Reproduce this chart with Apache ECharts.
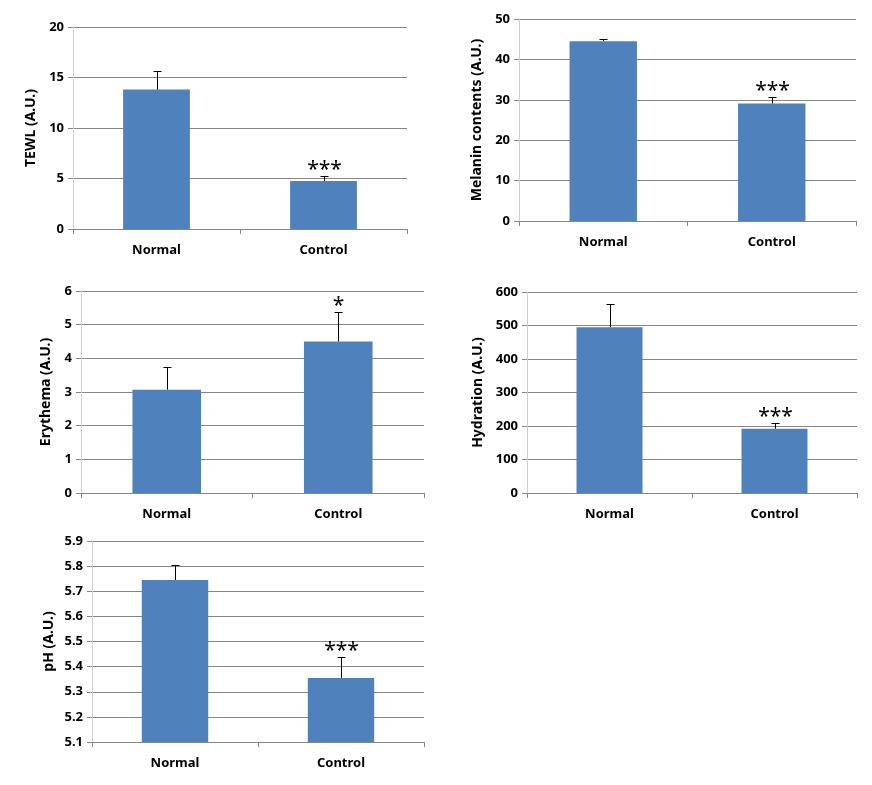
<!DOCTYPE html>
<html>
<head>
<meta charset="utf-8">
<script src="https://cdn.jsdelivr.net/npm/echarts@6/dist/echarts.min.js"></script>
<style>
html,body{margin:0;padding:0;background:#fff;}
#c{width:872px;height:785px;}
</style>
</head>
<body>
<div id="c"></div>
<script>
// ---- data ----
var categories = ['Normal', 'Control'];

var tewlValues = [13.8, 4.75];
var tewlErrors = [1.85, 0.5];
var tewlSig = ['', '***'];

var melaninValues = [44.5, 29.1];
var melaninErrors = [0.6, 1.7];
var melaninSig = ['', '***'];

var erythemaValues = [3.07, 4.5];
var erythemaErrors = [0.67, 0.88];
var erythemaSig = ['', '*'];

var hydrationValues = [495, 192];
var hydrationErrors = [70, 17];
var hydrationSig = ['', '***'];

var phValues = [5.745, 5.355];
var phErrors = [0.058, 0.085];
var phSig = ['', '***'];

var yTitles = ['TEWL (A.U.)', 'Melanin contents (A.U.)', 'Erythema (A.U.)', 'Hydration (A.U.)', 'pH (A.U.)'];
var yMins = [0, 0, 0, 0, 5.1];
var yMaxs = [20, 50, 6, 600, 5.9];
var yIntervals = [5, 10, 1, 100, 0.1];
var yDecimals = [0, 0, 0, 0, 1];

// ---- layout ----
var grids = [
  {left: 73, right: 465, top: 27, bottom: 556},
  {left: 519, right: 16, top: 19, bottom: 564},
  {left: 81, right: 448, top: 291, bottom: 292},
  {left: 527, right: 15, top: 292, bottom: 292},
  {left: 92, right: 448, top: 541, bottom: 43}
];
var nameGaps = [35, 35, 28, 42, 36];

var panels = [
  {v: tewlValues, e: tewlErrors, s: tewlSig},
  {v: melaninValues, e: melaninErrors, s: melaninSig},
  {v: erythemaValues, e: erythemaErrors, s: erythemaSig},
  {v: hydrationValues, e: hydrationErrors, s: hydrationSig},
  {v: phValues, e: phErrors, s: phSig}
];

var FONT = 'Noto Sans';
var xAxes = [], yAxes = [], series = [];

panels.forEach(function (p, i) {
  xAxes.push({
    type: 'category', gridIndex: i, data: categories,
    axisLine: {show: true, lineStyle: {color: '#868686', width: 1}},
    axisTick: {show: true, length: 5, alignWithLabel: false, lineStyle: {color: '#868686'}},
    axisLabel: {color: '#000', fontFamily: FONT, fontWeight: 'bold', fontSize: 13, margin: 15},
    splitLine: {show: false}
  });
  (function (dec) {
    yAxes.push({
      type: 'value', gridIndex: i, min: yMins[i], max: yMaxs[i], interval: yIntervals[i],
      name: yTitles[i], nameLocation: 'middle', nameRotate: 90, nameGap: nameGaps[i],
      nameTextStyle: {color: '#000', fontFamily: FONT, fontWeight: 'bold', fontSize: 14},
      axisLine: {show: true, lineStyle: {color: '#d0d0d0', width: 1}},
      axisTick: {show: true, length: 5, lineStyle: {color: '#868686'}},
      axisLabel: {color: '#000', fontFamily: FONT, fontWeight: 'bold', fontSize: 13, margin: 9,
        formatter: function (val) { return Number(val).toFixed(dec); }},
      splitLine: {show: true, lineStyle: {color: '#868686', width: 1}}
    });
  })(yDecimals[i]);

  series.push({
    type: 'bar', xAxisIndex: i, yAxisIndex: i, data: p.v,
    barWidth: '40%', clip: true,
    itemStyle: {color: '#4f81bd'},
    silent: true
  });

  (function (sig) {
    series.push({
      type: 'custom', xAxisIndex: i, yAxisIndex: i, z: 5, silent: true,
      data: p.v.map(function (v, k) { return [k, v, p.e[k]]; }),
      renderItem: function (params, api) {
        var x = api.value(0), v = api.value(1), e = api.value(2);
        var p0 = api.coord([x, v]);
        var p1 = api.coord([x, v + e]);
        var cx = Math.round(p0[0]) + 0.5;
        var ty = Math.round(p1[1]) + 0.5;
        var children = [
          {type: 'line', shape: {x1: cx, y1: p0[1], x2: cx, y2: ty}, style: {stroke: '#000', lineWidth: 1}},
          {type: 'line', shape: {x1: cx - 4, y1: ty, x2: cx + 4, y2: ty}, style: {stroke: '#000', lineWidth: 1}}
        ];
        var s = sig[params.dataIndex];
        if (s) {
          children.push({type: 'text', style: {text: s, x: cx, y: ty + 4, align: 'center', verticalAlign: 'bottom',
            fontSize: 21, fontFamily: FONT, fill: '#000'}});
        }
        return {type: 'group', children: children};
      }
    });
  })(p.s);
});

var chart = echarts.init(document.getElementById('c'), null, {renderer: 'canvas'});
chart.setOption({
  animation: false,
  backgroundColor: '#fff',
  grid: grids,
  xAxis: xAxes,
  yAxis: yAxes,
  series: series
});
</script>
</body>
</html>
